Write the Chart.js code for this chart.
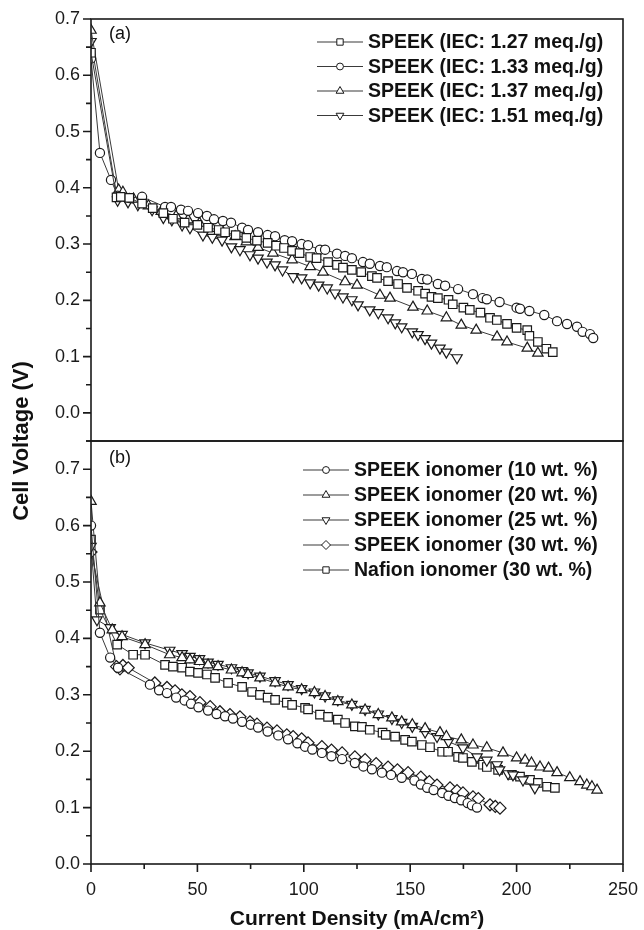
<!DOCTYPE html>
<html>
<head>
<meta charset="utf-8">
<script src="https://cdn.jsdelivr.net/npm/chart.js@4"></script>
<style>
  body { margin: 0; background: #fff; }
  #wrap { position: relative; width: 644px; height: 930px; overflow: hidden; }
  canvas { position: absolute; left: 0; }
  #topChart { top: 0; }
  #botChart { top: 430px; }
  #yTitle {
    position: absolute; left: -130px; top: 429px; width: 300px; height: 24px;
    line-height: 24px; text-align: center; color: #111;
    font: bold 22px "Liberation Sans", Arial, sans-serif;
    transform: rotate(-90deg);
  }
</style>
</head>
<body>
<div id="wrap">
  <canvas id="topChart" width="644" height="452"></canvas>
  <canvas id="botChart" width="644" height="500"></canvas>
  <div id="yTitle">Cell Voltage (V)</div>
</div>
<script>
// ---- Panel (a): SPEEK membranes with different IEC ----
const aNames = ['SPEEK (IEC: 1.27 meq./g)', 'SPEEK (IEC: 1.33 meq./g)', 'SPEEK (IEC: 1.37 meq./g)', 'SPEEK (IEC: 1.51 meq./g)'];

const a127x = [0, 12, 14, 18, 24, 29, 34, 38.5, 44, 50, 55, 60, 63, 68, 73, 78, 83, 87, 90.7, 94.5, 98, 103, 106, 111.4, 115.6, 118.4, 122.6, 127, 132, 134.4, 139.6, 144.3, 148.5, 153.7, 157, 160, 163, 168, 170, 175, 178, 183, 187.5, 190.7, 195.5, 200, 205, 206, 210, 214, 217];
const a127y = [0.640, 0.383, 0.384, 0.382, 0.372, 0.364, 0.355, 0.345, 0.338, 0.334, 0.329, 0.325, 0.321, 0.316, 0.311, 0.306, 0.302, 0.297, 0.293, 0.288, 0.284, 0.277, 0.275, 0.268, 0.263, 0.258, 0.254, 0.250, 0.243, 0.240, 0.234, 0.229, 0.222, 0.217, 0.212, 0.206, 0.204, 0.201, 0.193, 0.187, 0.183, 0.178, 0.169, 0.165, 0.158, 0.151, 0.147, 0.137, 0.126, 0.114, 0.108];

const a133x = [0, 4.2, 9.4, 12.5, 18, 24, 34.8, 37.6, 42.3, 45.6, 50.3, 54.5, 57.8, 62, 65.8, 71, 73.8, 78.5, 83, 86.5, 91, 94.5, 99, 102, 107.6, 110, 115.6, 119.4, 122.6, 127.8, 131, 135.8, 139, 143.8, 146.6, 150.8, 155.5, 158, 163, 166.4, 172.5, 179.5, 184, 186, 192, 200, 201.6, 206, 213, 219, 223.7, 228.4, 231, 234.5, 236];
const a133y = [0.630, 0.462, 0.414, 0.386, 0.382, 0.384, 0.366, 0.366, 0.361, 0.359, 0.355, 0.350, 0.344, 0.341, 0.338, 0.329, 0.325, 0.321, 0.316, 0.314, 0.307, 0.305, 0.300, 0.298, 0.290, 0.290, 0.283, 0.279, 0.275, 0.268, 0.265, 0.261, 0.259, 0.252, 0.250, 0.247, 0.238, 0.237, 0.229, 0.226, 0.220, 0.211, 0.204, 0.202, 0.197, 0.187, 0.185, 0.181, 0.174, 0.163, 0.158, 0.153, 0.144, 0.140, 0.133];

const a137x = [0, 13, 15, 20, 27, 33, 40, 45.6, 51, 57, 62, 67.7, 73, 78.5, 85.5, 94.5, 103, 109, 119.4, 125, 135.8, 140.5, 151.3, 158, 167, 174, 181, 190.8, 195.5, 205, 210];
const a137y = [0.680, 0.396, 0.392, 0.380, 0.368, 0.358, 0.350, 0.343, 0.337, 0.328, 0.321, 0.313, 0.304, 0.294, 0.284, 0.272, 0.260, 0.250, 0.233, 0.227, 0.209, 0.204, 0.188, 0.181, 0.169, 0.156, 0.147, 0.135, 0.126, 0.115, 0.106];

const a151x = [0, 12.5, 17.4, 22, 28.7, 34, 38, 42.8, 46.5, 52.6, 57, 61.6, 66, 70, 74.7, 78.5, 82.7, 86.5, 90, 95, 99, 103, 107, 111, 114.7, 118.4, 122.6, 125.5, 131, 135, 139.6, 143, 146, 151, 153.7, 157, 160, 164, 167, 172];
const a151y = [0.660, 0.378, 0.375, 0.370, 0.361, 0.347, 0.343, 0.334, 0.329, 0.316, 0.312, 0.307, 0.295, 0.290, 0.281, 0.275, 0.268, 0.263, 0.254, 0.242, 0.240, 0.231, 0.227, 0.222, 0.213, 0.206, 0.201, 0.192, 0.183, 0.178, 0.169, 0.160, 0.153, 0.144, 0.139, 0.132, 0.124, 0.115, 0.108, 0.098];

// ---- Panel (b): ionomer content in the catalyst layer ----
const bNames = ['SPEEK ionomer (10 wt. %)', 'SPEEK ionomer (20 wt. %)', 'SPEEK ionomer (25 wt. %)', 'SPEEK ionomer (30 wt. %)', 'Nafion ionomer (30 wt. %)'];

const b10x = [0, 4.2, 9, 12.7, 27.7, 32, 35.7, 40, 44, 47, 50.5, 55, 59, 63, 66.7, 71, 75, 78.5, 83, 88, 92.6, 97, 100.6, 104, 108.5, 113, 118, 124, 128, 132, 136.7, 141, 146, 152, 155, 158, 161, 165, 168, 171, 174, 177, 179, 181.4];
const b10y = [0.600, 0.410, 0.366, 0.348, 0.318, 0.308, 0.303, 0.295, 0.290, 0.284, 0.278, 0.272, 0.266, 0.262, 0.258, 0.252, 0.247, 0.242, 0.235, 0.228, 0.221, 0.214, 0.208, 0.203, 0.197, 0.191, 0.186, 0.179, 0.173, 0.168, 0.162, 0.158, 0.153, 0.148, 0.141, 0.135, 0.131, 0.126, 0.121, 0.117, 0.113, 0.108, 0.104, 0.100];

const b20x = [0, 4.2, 10, 14.6, 25.4, 37, 42.8, 46.5, 51, 55, 59.7, 66, 71, 73.8, 79.4, 86.5, 92.6, 99, 105, 110, 116, 122.6, 128.8, 135, 141.4, 146, 151, 157, 164, 167, 174, 179.5, 186, 193.6, 200, 204, 207, 211, 215, 219, 225, 229.8, 233, 235.4, 237.8];
const b20y = [0.643, 0.463, 0.415, 0.403, 0.389, 0.371, 0.366, 0.362, 0.359, 0.353, 0.350, 0.344, 0.339, 0.336, 0.330, 0.321, 0.314, 0.309, 0.304, 0.297, 0.288, 0.282, 0.273, 0.265, 0.259, 0.252, 0.247, 0.240, 0.233, 0.226, 0.220, 0.211, 0.206, 0.197, 0.188, 0.184, 0.179, 0.172, 0.170, 0.162, 0.153, 0.146, 0.140, 0.137, 0.131];

const b25x = [0, 2.8, 9, 14.6, 25.4, 37, 42.8, 46.5, 51, 55, 59.7, 66, 71, 73.8, 79.4, 86.5, 92.6, 99, 105, 110, 116, 122.6, 128.8, 135, 141.4, 146, 151, 157, 162.6, 168, 174.8, 181.4, 186, 190.8, 192, 196, 198.3, 203, 208.6];
const b25y = [0.563, 0.433, 0.419, 0.407, 0.392, 0.379, 0.373, 0.368, 0.364, 0.358, 0.354, 0.348, 0.343, 0.339, 0.333, 0.325, 0.318, 0.311, 0.305, 0.298, 0.291, 0.283, 0.274, 0.266, 0.258, 0.251, 0.244, 0.234, 0.226, 0.217, 0.206, 0.190, 0.184, 0.176, 0.167, 0.160, 0.158, 0.149, 0.135];

const b30x = [0, 12, 13.6, 15, 17.5, 30, 35.7, 39.5, 42.7, 46.5, 51.2, 56, 60.6, 65.3, 70, 74.7, 78, 82.7, 87.4, 92, 95, 99, 102, 108.5, 113, 118, 124, 128.8, 134, 139.6, 144, 149, 155, 159, 162.6, 168.7, 172, 174.8, 179.5, 182, 187.5, 190, 192.2];
const b30y = [0.553, 0.350, 0.346, 0.352, 0.348, 0.321, 0.313, 0.307, 0.300, 0.297, 0.286, 0.279, 0.270, 0.265, 0.261, 0.252, 0.248, 0.241, 0.236, 0.229, 0.226, 0.222, 0.215, 0.208, 0.202, 0.197, 0.190, 0.185, 0.178, 0.172, 0.167, 0.162, 0.154, 0.146, 0.140, 0.135, 0.130, 0.126, 0.119, 0.116, 0.105, 0.102, 0.099];

const bNafx = [0, 4.2, 12.3, 19.8, 25.4, 34.8, 38.5, 42.8, 46.5, 50.3, 54.5, 58.3, 64.4, 71, 75.7, 79.4, 83, 86.5, 92, 94.5, 100.6, 102, 107.6, 111.4, 116, 119.4, 124, 127.3, 131, 137, 138.5, 142.9, 147.6, 150.8, 155.5, 159.3, 165, 167.8, 172.5, 174.8, 179, 184.2, 186, 191.3, 197.8, 201.6, 206.3, 210, 214.3, 218];
const bNafy = [0.575, 0.451, 0.389, 0.371, 0.371, 0.353, 0.350, 0.348, 0.341, 0.339, 0.336, 0.330, 0.321, 0.314, 0.305, 0.300, 0.295, 0.291, 0.286, 0.282, 0.277, 0.274, 0.265, 0.261, 0.256, 0.250, 0.244, 0.243, 0.238, 0.233, 0.229, 0.226, 0.220, 0.217, 0.211, 0.207, 0.199, 0.199, 0.190, 0.188, 0.181, 0.176, 0.172, 0.167, 0.158, 0.155, 0.149, 0.144, 0.137, 0.135];

// axis ticks
const xTickMin = 0, xTickMax = 250, xStep = 25;
const yStep = 0.05;

const FONT = '"Liberation Sans", Arial, Helvetica, sans-serif';
Chart.defaults.font.family = FONT;
Chart.defaults.color = '#111';

function zip(xs, ys) {
    return xs.map((x, i) => ({ x: x, y: ys[i] }));
}

function series(label, xs, ys, style, radius, rotation) {
    return {
        label: label,
        data: zip(xs, ys),
        borderColor: '#3a3a3a',
        borderWidth: 1,
        pointStyle: style,
        pointRadius: radius,
        pointRotation: rotation || 0,
        pointBackgroundColor: '#fff',
        pointBorderColor: '#1a1a1a',
        pointBorderWidth: 1.2,
        tension: 0,
        fill: false
    };
}

const isMajor = (v, step) => Math.abs(Math.round(v * 100)) % Math.round(step * 100) === 0;

// frame, outside ticks (major + minor) and panel label
const framePlugin = {
    id: 'frame',
    afterDatasetsDraw(chart, args, opts) {
        const ctx = chart.ctx;
        const a = chart.chartArea;
        ctx.save();
        ctx.strokeStyle = '#1a1a1a';
        ctx.lineWidth = 1.6;
        ctx.beginPath();
        const ys = chart.scales.y;
        ys.ticks.forEach(t => {
            const py = ys.getPixelForValue(t.value);
            const len = isMajor(t.value, 0.1) ? 8 : 5;
            ctx.moveTo(a.left - len, py);
            ctx.lineTo(a.left, py);
        });
        if (opts.xTicks) {
            const xs = chart.scales.x;
            xs.ticks.forEach(t => {
                const px = xs.getPixelForValue(t.value);
                const len = t.value % 50 === 0 ? 8 : 5;
                ctx.moveTo(px, a.bottom);
                ctx.lineTo(px, a.bottom + len);
            });
        }
        ctx.stroke();
        ctx.strokeRect(a.left, a.top, a.right - a.left, a.bottom - a.top);
        ctx.fillStyle = '#111';
        ctx.font = '18px ' + FONT;
        ctx.textBaseline = 'middle';
        ctx.fillText(opts.panel, a.left + 18, a.top + opts.panelDy);
        ctx.restore();
    }
};

// legend drawn as  —marker—  label
const lineLegend = {
    id: 'lineLegend',
    afterDraw(chart, args, opts) {
        const ctx = chart.ctx;
        ctx.save();
        chart.data.datasets.forEach((ds, i) => {
            const y = opts.y + i * opts.step;
            const x = opts.x;
            ctx.strokeStyle = '#3a3a3a';
            ctx.lineWidth = 1.2;
            ctx.beginPath();
            ctx.moveTo(x, y);
            ctx.lineTo(x + 46, y);
            ctx.stroke();
            ctx.fillStyle = '#fff';
            ctx.strokeStyle = '#1a1a1a';
            ctx.lineWidth = 1;
            Chart.helpers.drawPoint(ctx, {
                pointStyle: ds.pointStyle,
                rotation: ds.pointRotation,
                radius: ds.pointRadius * 0.75,
                borderWidth: 1
            }, x + 23, y);
            ctx.fillStyle = '#111';
            ctx.font = 'bold 19.5px ' + FONT;
            ctx.textBaseline = 'middle';
            ctx.fillText(ds.label, x + 51, y + 1);
        });
        ctx.restore();
    }
};

// invisible tick marks just push the labels away from the axis
const hiddenTicks = len => ({
    display: true, drawOnChartArea: false, drawTicks: true,
    tickLength: len, color: 'rgba(0,0,0,0)'
});

function yAxis(min, max) {
    return {
        type: 'linear',
        min: min,
        max: max,
        afterFit: s => { s.width = 91; },
        grid: hiddenTicks(11),
        border: { display: false },
        ticks: {
            stepSize: yStep,
            autoSkip: false,
            padding: 0,
            font: { size: 18 },
            color: '#1a1a1a',
            callback: v => isMajor(v, 0.1) ? (Math.abs(v) < 1e-9 ? 0 : v).toFixed(1) : ''
        }
    };
}

const topChart = new Chart(document.getElementById('topChart'), {
    type: 'line',
    data: {
        datasets: [
            series(aNames[0], a127x, a127y, 'rect', 6),
            series(aNames[1], a133x, a133y, 'circle', 4.6),
            series(aNames[2], a137x, a137y, 'triangle', 6),
            series(aNames[3], a151x, a151y, 'triangle', 6, 180)
        ]
    },
    options: {
        responsive: false,
        animation: false,
        layout: { padding: { top: 19, right: 21, bottom: 11, left: 0 } },
        plugins: {
            legend: { display: false },
            tooltip: { enabled: false },
            frame: { panel: '(a)', panelDy: 15, xTicks: false },
            lineLegend: { x: 317, y: 42, step: 24.5 }
        },
        scales: {
            x: { type: 'linear', display: false, min: xTickMin, max: xTickMax },
            y: yAxis(-0.05, 0.7)
        }
    },
    plugins: [framePlugin, lineLegend]
});

const botChart = new Chart(document.getElementById('botChart'), {
    type: 'line',
    data: {
        datasets: [
            series(bNames[0], b10x, b10y, 'circle', 4.6),
            series(bNames[1], b20x, b20y, 'triangle', 6),
            series(bNames[2], b25x, b25y, 'triangle', 6, 180),
            series(bNames[3], b30x, b30y, 'rectRot', 6),
            series(bNames[4], bNafx, bNafy, 'rect', 6)
        ]
    },
    options: {
        responsive: false,
        animation: false,
        layout: { padding: { top: 11, right: 21, bottom: 0, left: 0 } },
        plugins: {
            legend: { display: false },
            tooltip: { enabled: false },
            frame: { panel: '(b)', panelDy: 17, xTicks: true },
            lineLegend: { x: 303, y: 40, step: 25 }
        },
        scales: {
            x: {
                type: 'linear',
                min: xTickMin,
                max: xTickMax,
                afterFit: s => { s.height = 66; },
                grid: hiddenTicks(12),
                border: { display: false },
                ticks: {
                    stepSize: xStep,
                    autoSkip: false,
                    maxRotation: 0,
                    padding: 3,
                    font: { size: 18 },
                    color: '#1a1a1a',
                    callback: v => v % 50 === 0 ? String(v) : ''
                },
                title: {
                    display: true,
                    text: 'Current Density (mA/cm²)',
                    font: { size: 21, weight: 'bold' },
                    color: '#111',
                    padding: { top: 0, bottom: -2 }
                }
            },
            y: yAxis(0, 0.75)
        }
    },
    plugins: [framePlugin, lineLegend]
});
</script>
</body>
</html>
